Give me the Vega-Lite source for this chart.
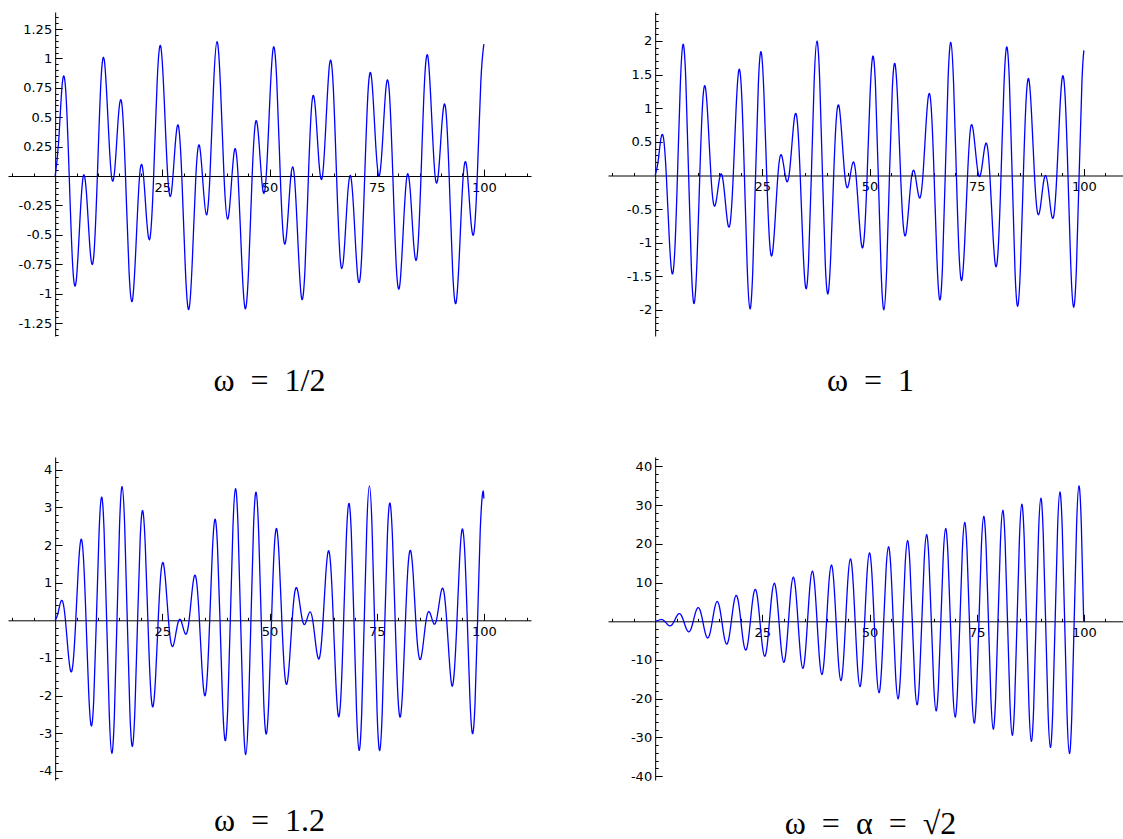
{
"$schema": "https://vega.github.io/schema/vega-lite/v6.json",
"background": "white",
"padding": {"left": 8, "top": 12, "right": 0, "bottom": 0},
"autosize": {"type": "pad"},
"config": {"view": {"stroke": null}, "axis": {"grid": false, "title": null, "domainColor": "black", "domainWidth": 1, "tickColor": "black", "tickWidth": 1, "labelFont": "DejaVu Sans", "labelFontSize": 13, "labelColor": "black", "labelOverlap": false, "labelFlush": false}},
"datasets": {
"a": [{"t":0,"x":0},{"t":0.821,"x":0.296},{"t":1.641,"x":0.779},{"t":2.462,"x":0.729},{"t":3.282,"x":0},{"t":4.103,"x":-0.771},{"t":4.924,"x":-0.889},{"t":5.744,"x":-0.399},{"t":6.565,"x":0},{"t":7.385,"x":-0.188},{"t":8.206,"x":-0.654},{"t":9.027,"x":-0.673},{"t":9.847,"x":0},{"t":10.668,"x":0.797},{"t":11.488,"x":0.981},{"t":12.309,"x":0.493},{"t":13.130,"x":0},{"t":13.950,"x":0.075},{"t":14.771,"x":0.516},{"t":15.591,"x":0.604},{"t":16.412,"x":0},{"t":17.233,"x":-0.808},{"t":18.053,"x":-1.053},{"t":18.874,"x":-0.578},{"t":19.694,"x":0},{"t":20.515,"x":0.038},{"t":21.336,"x":-0.368},{"t":22.156,"x":-0.522},{"t":22.977,"x":0},{"t":23.797,"x":0.803},{"t":24.618,"x":1.105},{"t":25.438,"x":0.652},{"t":26.259,"x":0},{"t":27.080,"x":-0.151},{"t":27.900,"x":0.213},{"t":28.721,"x":0.431},{"t":29.541,"x":0},{"t":30.362,"x":-0.781},{"t":31.183,"x":-1.135},{"t":32.003,"x":-0.712},{"t":32.824,"x":0},{"t":33.644,"x":0.261},{"t":34.465,"x":-0.053},{"t":35.286,"x":-0.331},{"t":36.106,"x":0},{"t":36.927,"x":0.745},{"t":37.747,"x":1.143},{"t":38.568,"x":0.759},{"t":39.389,"x":0},{"t":40.209,"x":-0.366},{"t":41.030,"x":-0.108},{"t":41.850,"x":0.224},{"t":42.671,"x":0},{"t":43.492,"x":-0.693},{"t":44.312,"x":-1.127},{"t":45.133,"x":-0.790},{"t":45.953,"x":0},{"t":46.774,"x":0.463},{"t":47.595,"x":0.266},{"t":48.415,"x":-0.113},{"t":49.236,"x":0},{"t":50.056,"x":0.628},{"t":50.877,"x":1.090},{"t":51.698,"x":0.806},{"t":52.518,"x":0},{"t":53.339,"x":-0.552},{"t":54.159,"x":-0.420},{"t":54.980,"x":-0.001},{"t":55.801,"x":0},{"t":56.621,"x":-0.550},{"t":57.442,"x":-1.031},{"t":58.262,"x":-0.806},{"t":59.083,"x":0},{"t":59.904,"x":0.629},{"t":60.724,"x":0.565},{"t":61.545,"x":0.114},{"t":62.365,"x":0},{"t":63.186,"x":0.462},{"t":64.006,"x":0.951},{"t":64.827,"x":0.790},{"t":65.648,"x":0},{"t":66.468,"x":-0.694},{"t":67.289,"x":-0.699},{"t":68.109,"x":-0.225},{"t":68.930,"x":0},{"t":69.751,"x":-0.364},{"t":70.571,"x":-0.853},{"t":71.392,"x":-0.758},{"t":72.212,"x":0},{"t":73.033,"x":0.745},{"t":73.854,"x":0.819},{"t":74.674,"x":0.332},{"t":75.495,"x":0},{"t":76.315,"x":0.259},{"t":77.136,"x":0.738},{"t":77.957,"x":0.712},{"t":78.777,"x":0},{"t":79.598,"x":-0.782},{"t":80.418,"x":-0.922},{"t":81.239,"x":-0.432},{"t":82.060,"x":0},{"t":82.880,"x":-0.149},{"t":83.701,"x":-0.608},{"t":84.521,"x":-0.651},{"t":85.342,"x":0},{"t":86.163,"x":0.803},{"t":86.983,"x":1.008},{"t":87.804,"x":0.524},{"t":88.624,"x":0},{"t":89.445,"x":0.037},{"t":90.266,"x":0.466},{"t":91.086,"x":0.577},{"t":91.907,"x":0},{"t":92.727,"x":-0.808},{"t":93.548,"x":-1.074},{"t":94.369,"x":-0.605},{"t":95.189,"x":0},{"t":96.010,"x":0.077},{"t":96.830,"x":-0.315},{"t":97.651,"x":-0.492},{"t":98.472,"x":0},{"t":99.292,"x":0.797},{"t":100,"x":1.122}],
"b": [{"t":0,"x":0},{"t":0.651,"x":0.190},{"t":1.301,"x":0.533},{"t":1.952,"x":0.556},{"t":2.603,"x":0},{"t":3.253,"x":-0.882},{"t":3.904,"x":-1.447},{"t":4.555,"x":-1.145},{"t":5.205,"x":0},{"t":5.856,"x":1.325},{"t":6.506,"x":1.950},{"t":7.157,"x":1.409},{"t":7.808,"x":0},{"t":8.458,"x":-1.391},{"t":9.109,"x":-1.901},{"t":9.760,"x":-1.273},{"t":10.410,"x":0},{"t":11.061,"x":1.063},{"t":11.712,"x":1.313},{"t":12.362,"x":0.777},{"t":13.013,"x":0},{"t":13.664,"x":-0.434},{"t":14.314,"x":-0.352},{"t":14.965,"x":-0.060},{"t":15.615,"x":0},{"t":16.266,"x":-0.319},{"t":16.917,"x":-0.708},{"t":17.567,"x":-0.674},{"t":18.218,"x":0},{"t":18.869,"x":0.981},{"t":19.519,"x":1.568},{"t":20.170,"x":1.217},{"t":20.821,"x":0},{"t":21.471,"x":-1.365},{"t":22.122,"x":-1.983},{"t":22.773,"x":-1.414},{"t":23.423,"x":0},{"t":24.074,"x":1.362},{"t":24.725,"x":1.836},{"t":25.375,"x":1.211},{"t":26.026,"x":0},{"t":26.676,"x":-0.973},{"t":27.327,"x":-1.168},{"t":27.978,"x":-0.664},{"t":28.628,"x":0},{"t":29.279,"x":0.308},{"t":29.930,"x":0.169},{"t":30.580,"x":-0.071},{"t":31.231,"x":0},{"t":31.882,"x":0.444},{"t":32.532,"x":0.878},{"t":33.183,"x":0.786},{"t":33.834,"x":0},{"t":34.484,"x":-1.071},{"t":35.135,"x":-1.676},{"t":35.785,"x":-1.278},{"t":36.436,"x":0},{"t":37.087,"x":1.393},{"t":37.737,"x":1.999},{"t":38.388,"x":1.408},{"t":39.039,"x":0},{"t":39.689,"x":-1.321},{"t":40.340,"x":-1.755},{"t":40.991,"x":-1.138},{"t":41.641,"x":0},{"t":42.292,"x":0.874},{"t":42.943,"x":1.013},{"t":43.593,"x":0.546},{"t":44.244,"x":0},{"t":44.895,"x":-0.179},{"t":45.545,"x":0.016},{"t":46.196,"x":0.201},{"t":46.846,"x":0},{"t":47.497,"x":-0.567},{"t":48.148,"x":-1.040},{"t":48.798,"x":-0.891},{"t":49.449,"x":0},{"t":50.100,"x":1.151},{"t":50.750,"x":1.770},{"t":51.401,"x":1.328},{"t":52.052,"x":0},{"t":52.702,"x":-1.410},{"t":53.353,"x":-1.997},{"t":54.004,"x":-1.389},{"t":54.654,"x":0},{"t":55.305,"x":1.268},{"t":55.955,"x":1.658},{"t":56.606,"x":1.056},{"t":57.257,"x":0},{"t":57.907,"x":-0.767},{"t":58.558,"x":-0.849},{"t":59.209,"x":-0.423},{"t":59.859,"x":0},{"t":60.510,"x":0.049},{"t":61.161,"x":-0.200},{"t":61.811,"x":-0.330},{"t":62.462,"x":0},{"t":63.113,"x":0.684},{"t":63.763,"x":1.193},{"t":64.414,"x":0.989},{"t":65.065,"x":0},{"t":65.715,"x":-1.222},{"t":66.366,"x":-1.848},{"t":67.016,"x":-1.368},{"t":67.667,"x":0},{"t":68.318,"x":1.414},{"t":68.968,"x":1.979},{"t":69.619,"x":1.359},{"t":70.270,"x":0},{"t":70.920,"x":-1.205},{"t":71.571,"x":-1.548},{"t":72.222,"x":-0.964},{"t":72.872,"x":0},{"t":73.523,"x":0.680},{"t":74.174,"x":0.679},{"t":74.824,"x":0.297},{"t":75.475,"x":0},{"t":76.125,"x":0.082},{"t":76.776,"x":0.383},{"t":77.427,"x":0.455},{"t":78.077,"x":0},{"t":78.728,"x":-0.795},{"t":79.379,"x":-1.337},{"t":80.029,"x":-1.078},{"t":80.680,"x":0},{"t":81.331,"x":1.283},{"t":81.981,"x":1.911},{"t":82.632,"x":1.395},{"t":83.283,"x":0},{"t":83.933,"x":-1.407},{"t":84.584,"x":-1.943},{"t":85.235,"x":-1.317},{"t":85.885,"x":0},{"t":86.536,"x":1.131},{"t":87.186,"x":1.424},{"t":87.837,"x":0.865},{"t":88.488,"x":0},{"t":89.138,"x":-0.536},{"t":89.789,"x":-0.502},{"t":90.440,"x":-0.168},{"t":91.090,"x":0},{"t":91.741,"x":-0.212},{"t":92.392,"x":-0.563},{"t":93.042,"x":-0.577},{"t":93.693,"x":0},{"t":94.344,"x":0.900},{"t":94.994,"x":1.468},{"t":95.645,"x":1.158},{"t":96.296,"x":0},{"t":96.946,"x":-1.332},{"t":97.597,"x":-1.957},{"t":98.247,"x":-1.410},{"t":98.898,"x":0},{"t":99.549,"x":1.387},{"t":100,"x":1.861}],
"c": [{"t":0,"x":0},{"t":0.601,"x":0.162},{"t":1.202,"x":0.458},{"t":1.803,"x":0.485},{"t":2.403,"x":0},{"t":3.004,"x":-0.799},{"t":3.605,"x":-1.345},{"t":4.206,"x":-1.100},{"t":4.807,"x":0},{"t":5.408,"x":1.382},{"t":6.009,"x":2.143},{"t":6.610,"x":1.642},{"t":7.210,"x":0},{"t":7.811,"x":-1.875},{"t":8.412,"x":-2.800},{"t":9.013,"x":-2.077},{"t":9.614,"x":0},{"t":10.215,"x":2.244},{"t":10.816,"x":3.272},{"t":11.417,"x":2.374},{"t":12.017,"x":0},{"t":12.618,"x":-2.465},{"t":13.219,"x":-3.529},{"t":13.820,"x":-2.515},{"t":14.421,"x":0},{"t":15.022,"x":2.524},{"t":15.623,"x":3.553},{"t":16.224,"x":2.490},{"t":16.824,"x":0},{"t":17.425,"x":-2.416},{"t":18.026,"x":-3.343},{"t":18.627,"x":-2.301},{"t":19.228,"x":0},{"t":19.829,"x":2.149},{"t":20.430,"x":2.912},{"t":21.030,"x":1.961},{"t":21.631,"x":0},{"t":22.232,"x":-1.740},{"t":22.833,"x":-2.290},{"t":23.434,"x":-1.491},{"t":24.035,"x":0},{"t":24.636,"x":1.217},{"t":25.237,"x":1.517},{"t":25.837,"x":0.923},{"t":26.438,"x":0},{"t":27.039,"x":-0.614},{"t":27.640,"x":-0.643},{"t":28.241,"x":-0.294},{"t":28.842,"x":0},{"t":29.443,"x":-0.030},{"t":30.044,"x":-0.272},{"t":30.644,"x":-0.354},{"t":31.245,"x":0},{"t":31.846,"x":0.672},{"t":32.447,"x":1.170},{"t":33.048,"x":0.979},{"t":33.649,"x":0},{"t":34.250,"x":-1.270},{"t":34.851,"x":-1.990},{"t":35.451,"x":-1.539},{"t":36.052,"x":0},{"t":36.653,"x":1.784},{"t":37.254,"x":2.680},{"t":37.855,"x":1.998},{"t":38.456,"x":0},{"t":39.057,"x":-2.180},{"t":39.658,"x":-3.193},{"t":40.258,"x":-2.326},{"t":40.859,"x":0},{"t":41.460,"x":2.433},{"t":42.061,"x":3.495},{"t":42.662,"x":2.500},{"t":43.263,"x":0},{"t":43.864,"x":-2.525},{"t":44.465,"x":-3.567},{"t":45.065,"x":-2.509},{"t":45.666,"x":0},{"t":46.267,"x":2.451},{"t":46.868,"x":3.404},{"t":47.469,"x":2.353},{"t":48.070,"x":0},{"t":48.671,"x":-2.216},{"t":49.271,"x":-3.017},{"t":49.872,"x":-2.042},{"t":50.473,"x":0},{"t":51.074,"x":1.834},{"t":51.675,"x":2.430},{"t":52.276,"x":1.596},{"t":52.877,"x":0},{"t":53.478,"x":-1.332},{"t":54.078,"x":-1.684},{"t":54.679,"x":-1.045},{"t":55.280,"x":0},{"t":55.881,"x":0.741},{"t":56.482,"x":0.827},{"t":57.083,"x":0.425},{"t":57.684,"x":0},{"t":58.284,"x":-0.102},{"t":58.885,"x":0.085},{"t":59.486,"x":0.222},{"t":60.087,"x":0},{"t":60.688,"x":-0.544},{"t":61.289,"x":-0.991},{"t":61.890,"x":-0.856},{"t":62.491,"x":0},{"t":63.091,"x":1.153},{"t":63.692,"x":1.832},{"t":64.293,"x":1.432},{"t":64.894,"x":0},{"t":65.495,"x":-1.687},{"t":66.096,"x":-2.552},{"t":66.697,"x":-1.915},{"t":67.298,"x":0},{"t":67.898,"x":2.110},{"t":68.499,"x":3.104},{"t":69.100,"x":2.271},{"t":69.701,"x":0},{"t":70.302,"x":-2.394},{"t":70.903,"x":-3.452},{"t":71.504,"x":-2.477},{"t":72.105,"x":0},{"t":72.705,"x":2.520},{"t":73.306,"x":3.571},{"t":73.907,"x":2.521},{"t":74.508,"x":0},{"t":75.109,"x":-2.480},{"t":75.710,"x":-3.456},{"t":76.311,"x":-2.398},{"t":76.911,"x":0},{"t":77.512,"x":2.276},{"t":78.113,"x":3.113},{"t":78.714,"x":2.117},{"t":79.315,"x":0},{"t":79.916,"x":-1.922},{"t":80.517,"x":-2.564},{"t":81.118,"x":-1.696},{"t":81.718,"x":0},{"t":82.319,"x":1.442},{"t":82.920,"x":1.847},{"t":83.521,"x":1.209},{"t":84.122,"x":0},{"t":84.723,"x":-0.867},{"t":85.324,"x":-1.008},{"t":85.925,"x":-0.555},{"t":86.525,"x":0},{"t":87.126,"x":0.234},{"t":87.727,"x":0.102},{"t":88.328,"x":-0.090},{"t":88.929,"x":0},{"t":89.530,"x":0.414},{"t":90.131,"x":0.810},{"t":90.732,"x":0.730},{"t":91.332,"x":0},{"t":91.933,"x":-1.034},{"t":92.534,"x":-1.732},{"t":93.135,"x":-1.321},{"t":93.736,"x":0},{"t":94.337,"x":1.587},{"t":94.938,"x":2.418},{"t":95.539,"x":1.826},{"t":96.139,"x":0},{"t":96.740,"x":-2.035},{"t":97.341,"x":-3.007},{"t":97.942,"x":-2.210},{"t":98.543,"x":0},{"t":99.144,"x":2.348},{"t":99.745,"x":3.399},{"t":100,"x":3.237}],
"d": [{"t":0,"x":0},{"t":0.555,"x":0.139},{"t":1.111,"x":0.393},{"t":1.666,"x":0.417},{"t":2.221,"x":0},{"t":2.777,"x":-0.694},{"t":3.332,"x":-1.178},{"t":3.888,"x":-0.972},{"t":4.443,"x":0},{"t":4.998,"x":1.250},{"t":5.554,"x":1.964},{"t":6.109,"x":1.527},{"t":6.664,"x":0},{"t":7.220,"x":-1.805},{"t":7.775,"x":-2.749},{"t":8.330,"x":-2.083},{"t":8.886,"x":0},{"t":9.441,"x":2.360},{"t":9.996,"x":3.534},{"t":10.552,"x":2.638},{"t":11.107,"x":0},{"t":11.663,"x":-2.916},{"t":12.218,"x":-4.320},{"t":12.773,"x":-3.193},{"t":13.329,"x":0},{"t":13.884,"x":3.471},{"t":14.439,"x":5.105},{"t":14.995,"x":3.749},{"t":15.550,"x":0},{"t":16.105,"x":-4.026},{"t":16.661,"x":-5.891},{"t":17.216,"x":-4.304},{"t":17.772,"x":0},{"t":18.327,"x":4.582},{"t":18.882,"x":6.676},{"t":19.438,"x":4.859},{"t":19.993,"x":0},{"t":20.548,"x":-5.137},{"t":21.104,"x":-7.461},{"t":21.659,"x":-5.415},{"t":22.214,"x":0},{"t":22.770,"x":5.692},{"t":23.325,"x":8.247},{"t":23.881,"x":5.970},{"t":24.436,"x":0},{"t":24.991,"x":-6.248},{"t":25.547,"x":-9.032},{"t":26.102,"x":-6.526},{"t":26.657,"x":0},{"t":27.213,"x":6.803},{"t":27.768,"x":9.818},{"t":28.323,"x":7.081},{"t":28.879,"x":0},{"t":29.434,"x":-7.359},{"t":29.989,"x":-10.603},{"t":30.545,"x":-7.636},{"t":31.100,"x":0},{"t":31.656,"x":7.914},{"t":32.211,"x":11.388},{"t":32.766,"x":8.192},{"t":33.322,"x":0},{"t":33.877,"x":-8.469},{"t":34.432,"x":-12.174},{"t":34.988,"x":-8.747},{"t":35.543,"x":0},{"t":36.098,"x":9.025},{"t":36.654,"x":12.959},{"t":37.209,"x":9.302},{"t":37.765,"x":0},{"t":38.320,"x":-9.580},{"t":38.875,"x":-13.745},{"t":39.431,"x":-9.858},{"t":39.986,"x":0},{"t":40.541,"x":10.135},{"t":41.097,"x":14.530},{"t":41.652,"x":10.413},{"t":42.207,"x":0},{"t":42.763,"x":-10.691},{"t":43.318,"x":-15.315},{"t":43.873,"x":-10.968},{"t":44.429,"x":0},{"t":44.984,"x":11.246},{"t":45.540,"x":16.101},{"t":46.095,"x":11.524},{"t":46.650,"x":0},{"t":47.206,"x":-11.801},{"t":47.761,"x":-16.886},{"t":48.316,"x":-12.079},{"t":48.872,"x":0},{"t":49.427,"x":12.357},{"t":49.982,"x":17.672},{"t":50.538,"x":12.635},{"t":51.093,"x":0},{"t":51.649,"x":-12.912},{"t":52.204,"x":-18.457},{"t":52.759,"x":-13.190},{"t":53.315,"x":0},{"t":53.870,"x":13.468},{"t":54.425,"x":19.242},{"t":54.981,"x":13.745},{"t":55.536,"x":0},{"t":56.091,"x":-14.023},{"t":56.647,"x":-20.028},{"t":57.202,"x":-14.301},{"t":57.757,"x":0},{"t":58.313,"x":14.578},{"t":58.868,"x":20.813},{"t":59.424,"x":14.856},{"t":59.979,"x":0},{"t":60.534,"x":-15.134},{"t":61.090,"x":-21.599},{"t":61.645,"x":-15.411},{"t":62.200,"x":0},{"t":62.756,"x":15.689},{"t":63.311,"x":22.384},{"t":63.866,"x":15.967},{"t":64.422,"x":0},{"t":64.977,"x":-16.244},{"t":65.533,"x":-23.169},{"t":66.088,"x":-16.522},{"t":66.643,"x":0},{"t":67.199,"x":16.800},{"t":67.754,"x":23.955},{"t":68.309,"x":17.077},{"t":68.865,"x":0},{"t":69.420,"x":-17.355},{"t":69.975,"x":-24.740},{"t":70.531,"x":-17.633},{"t":71.086,"x":0},{"t":71.641,"x":17.910},{"t":72.197,"x":25.526},{"t":72.752,"x":18.188},{"t":73.308,"x":0},{"t":73.863,"x":-18.466},{"t":74.418,"x":-26.311},{"t":74.974,"x":-18.744},{"t":75.529,"x":0},{"t":76.084,"x":19.021},{"t":76.640,"x":27.096},{"t":77.195,"x":19.299},{"t":77.750,"x":0},{"t":78.306,"x":-19.577},{"t":78.861,"x":-27.882},{"t":79.417,"x":-19.854},{"t":79.972,"x":0},{"t":80.527,"x":20.132},{"t":81.083,"x":28.667},{"t":81.638,"x":20.410},{"t":82.193,"x":0},{"t":82.749,"x":-20.687},{"t":83.304,"x":-29.453},{"t":83.859,"x":-20.965},{"t":84.415,"x":0},{"t":84.970,"x":21.243},{"t":85.525,"x":30.238},{"t":86.081,"x":21.520},{"t":86.636,"x":0},{"t":87.192,"x":-21.798},{"t":87.747,"x":-31.023},{"t":88.302,"x":-22.076},{"t":88.858,"x":0},{"t":89.413,"x":22.353},{"t":89.968,"x":31.809},{"t":90.524,"x":22.631},{"t":91.079,"x":0},{"t":91.634,"x":-22.909},{"t":92.190,"x":-32.594},{"t":92.745,"x":-23.186},{"t":93.301,"x":0},{"t":93.856,"x":23.464},{"t":94.411,"x":33.380},{"t":94.967,"x":23.742},{"t":95.522,"x":0},{"t":96.077,"x":-24.019},{"t":96.633,"x":-34.165},{"t":97.188,"x":-24.297},{"t":97.743,"x":0},{"t":98.299,"x":24.575},{"t":98.854,"x":34.950},{"t":99.410,"x":24.853},{"t":99.965,"x":0}]
},
"columns": 2,
"bounds": "flush",
"spacing": {"row": 121, "column": 77},
"concat": [
{
"width": 523, "height": 324,
"data": {"name": "a"},
"title": {"text": "ω\u2002=\u20021/2", "orient": "bottom", "anchor": "middle", "offset": 30, "font": "Liberation Serif", "fontSize": 32, "fontWeight": "normal", "color": "black"},
"layer": [
{"mark": {"type": "line", "color": "#0000ff", "strokeWidth": 1.3, "interpolate": "natural", "clip": true},
"encoding": {
"x": {"field": "t", "type": "quantitative", "scale": {"domain": [-11, 111], "nice": false, "zero": false}, "axis": {"orient": "bottom", "offset": -160, "values": [25, 50, 75, 100], "tickSize": -7, "labelPadding": 12, "labelExpr": "(datum.value < 0 ? '-' : '') + format(abs(datum.value), '~g')"}},
"y": {"field": "x", "type": "quantitative", "scale": {"domain": [-1.3605, 1.3946], "nice": false, "zero": false}, "axis": {"orient": "left", "offset": -47.16, "values": [-1.25, -1, -0.75, -0.5, -0.25, 0.25, 0.5, 0.75, 1, 1.25], "tickSize": -7, "labelPadding": 10.5, "labelExpr": "(datum.value < 0 ? '-' : '') + format(abs(datum.value), '~g')"}}
}},
{"mark": {"type": "line", "strokeOpacity": 0},
"encoding": {
"x": {"field": "t", "type": "quantitative", "axis": {"orient": "bottom", "offset": -160, "values": [-10, -5, 5, 10, 15, 20, 30, 35, 40, 45, 55, 60, 65, 70, 80, 85, 90, 95, 105, 110], "tickSize": -3, "labels": false, "domain": false}},
"y": {"field": "x", "type": "quantitative", "axis": {"orient": "left", "offset": -47.16, "values": [-1.35, -1.3, -1.2, -1.15, -1.1, -1.05, -0.95, -0.9, -0.85, -0.8, -0.7, -0.65, -0.6, -0.55, -0.45, -0.4, -0.35, -0.3, -0.2, -0.15, -0.1, -0.05, 0.05, 0.1, 0.15, 0.2, 0.3, 0.35, 0.4, 0.45, 0.55, 0.6, 0.65, 0.7, 0.8, 0.85, 0.9, 0.95, 1.05, 1.1, 1.15, 1.2, 1.3, 1.35], "tickSize": -3, "labels": false, "domain": false}}
}}
],
"resolve": {"axis": {"x": "independent", "y": "independent"}}
},
{
"width": 515, "height": 324,
"data": {"name": "b"},
"title": {"text": "ω\u2002=\u20021", "orient": "bottom", "anchor": "middle", "offset": 30, "dx": 5, "font": "Liberation Serif", "fontSize": 32, "fontWeight": "normal", "color": "black"},
"layer": [
{"mark": {"type": "line", "color": "#0000ff", "strokeWidth": 1.3, "interpolate": "natural", "clip": true},
"encoding": {
"x": {"field": "t", "type": "quantitative", "scale": {"domain": [-11, 109.13], "nice": false, "zero": false}, "axis": {"orient": "bottom", "offset": -160.5, "values": [25, 50, 75, 100], "tickSize": -7, "labelPadding": 12, "labelExpr": "(datum.value < 0 ? '-' : '') + format(abs(datum.value), '~g')"}},
"y": {"field": "x", "type": "quantitative", "scale": {"domain": [-2.387, 2.431], "nice": false, "zero": false}, "axis": {"orient": "left", "offset": -47.16, "values": [-2, -1.5, -1, -0.5, 0.5, 1, 1.5, 2], "tickSize": -7, "labelPadding": 10.5, "labelExpr": "(datum.value < 0 ? '-' : '') + format(abs(datum.value), '~g')"}}
}},
{"mark": {"type": "line", "strokeOpacity": 0},
"encoding": {
"x": {"field": "t", "type": "quantitative", "axis": {"orient": "bottom", "offset": -160.5, "values": [-10, -5, 5, 10, 15, 20, 30, 35, 40, 45, 55, 60, 65, 70, 80, 85, 90, 95, 105], "tickSize": -3, "labels": false, "domain": false}},
"y": {"field": "x", "type": "quantitative", "axis": {"orient": "left", "offset": -47.16, "values": [-2.3, -2.2, -2.1, -1.9, -1.8, -1.7, -1.6, -1.4, -1.3, -1.2, -1.1, -0.9, -0.8, -0.7, -0.6, -0.4, -0.3, -0.2, -0.1, 0.1, 0.2, 0.3, 0.4, 0.6, 0.7, 0.8, 0.9, 1.1, 1.2, 1.3, 1.4, 1.6, 1.7, 1.8, 1.9, 2.1, 2.2, 2.3, 2.4], "tickSize": -3, "labels": false, "domain": false}}
}}
],
"resolve": {"axis": {"x": "independent", "y": "independent"}}
},
{
"width": 523, "height": 323,
"data": {"name": "c"},
"title": {"text": "ω\u2002=\u20021.2", "orient": "bottom", "anchor": "middle", "offset": 26, "font": "Liberation Serif", "fontSize": 32, "fontWeight": "normal", "color": "black"},
"layer": [
{"mark": {"type": "line", "color": "#0000ff", "strokeWidth": 1.3, "interpolate": "natural", "clip": true},
"encoding": {
"x": {"field": "t", "type": "quantitative", "scale": {"domain": [-11, 111], "nice": false, "zero": false}, "axis": {"orient": "bottom", "offset": -159.7, "values": [25, 50, 75, 100], "tickSize": -7, "labelPadding": 12, "labelExpr": "(datum.value < 0 ? '-' : '') + format(abs(datum.value), '~g')"}},
"y": {"field": "x", "type": "quantitative", "scale": {"domain": [-4.24, 4.338], "nice": false, "zero": false}, "axis": {"orient": "left", "offset": -47.16, "values": [-4, -3, -2, -1, 1, 2, 3, 4], "tickSize": -7, "labelPadding": 10.5, "labelExpr": "(datum.value < 0 ? '-' : '') + format(abs(datum.value), '~g')"}}
}},
{"mark": {"type": "line", "strokeOpacity": 0},
"encoding": {
"x": {"field": "t", "type": "quantitative", "axis": {"orient": "bottom", "offset": -159.7, "values": [-10, -5, 5, 10, 15, 20, 30, 35, 40, 45, 55, 60, 65, 70, 80, 85, 90, 95, 105, 110], "tickSize": -3, "labels": false, "domain": false}},
"y": {"field": "x", "type": "quantitative", "axis": {"orient": "left", "offset": -47.16, "values": [-4.2, -3.8, -3.6, -3.4, -3.2, -2.8, -2.6, -2.4, -2.2, -1.8, -1.6, -1.4, -1.2, -0.8, -0.6, -0.4, -0.2, 0.2, 0.4, 0.6, 0.8, 1.2, 1.4, 1.6, 1.8, 2.2, 2.4, 2.6, 2.8, 3.2, 3.4, 3.6, 3.8, 4.2], "tickSize": -3, "labels": false, "domain": false}}
}}
],
"resolve": {"axis": {"x": "independent", "y": "independent"}}
},
{
"width": 515, "height": 323,
"data": {"name": "d"},
"title": {"text": "ω\u2002=\u2002α\u2002=\u2002√2", "orient": "bottom", "anchor": "middle", "offset": 26, "dx": 5, "font": "Liberation Serif", "fontSize": 32, "fontWeight": "normal", "color": "black"},
"layer": [
{"mark": {"type": "line", "color": "#0000ff", "strokeWidth": 1.3, "interpolate": "natural", "clip": true},
"encoding": {
"x": {"field": "t", "type": "quantitative", "scale": {"domain": [-11, 109.13], "nice": false, "zero": false}, "axis": {"orient": "bottom", "offset": -158.7, "values": [25, 50, 75, 100], "tickSize": -7, "labelPadding": 12, "labelExpr": "(datum.value < 0 ? '-' : '') + format(abs(datum.value), '~g')"}},
"y": {"field": "x", "type": "quantitative", "scale": {"domain": [-41.0, 42.43], "nice": false, "zero": false}, "axis": {"orient": "left", "offset": -47.16, "values": [-40, -30, -20, -10, 10, 20, 30, 40], "tickSize": -7, "labelPadding": 10.5, "labelExpr": "(datum.value < 0 ? '-' : '') + format(abs(datum.value), '~g')"}}
}},
{"mark": {"type": "line", "strokeOpacity": 0},
"encoding": {
"x": {"field": "t", "type": "quantitative", "axis": {"orient": "bottom", "offset": -158.7, "values": [-10, -5, 5, 10, 15, 20, 30, 35, 40, 45, 55, 60, 65, 70, 80, 85, 90, 95, 105], "tickSize": -3, "labels": false, "domain": false}},
"y": {"field": "x", "type": "quantitative", "axis": {"orient": "left", "offset": -47.16, "values": [-38, -36, -34, -32, -28, -26, -24, -22, -18, -16, -14, -12, -8, -6, -4, -2, 2, 4, 6, 8, 12, 14, 16, 18, 22, 24, 26, 28, 32, 34, 36, 38, 42], "tickSize": -3, "labels": false, "domain": false}}
}}
],
"resolve": {"axis": {"x": "independent", "y": "independent"}}
}
]
}
